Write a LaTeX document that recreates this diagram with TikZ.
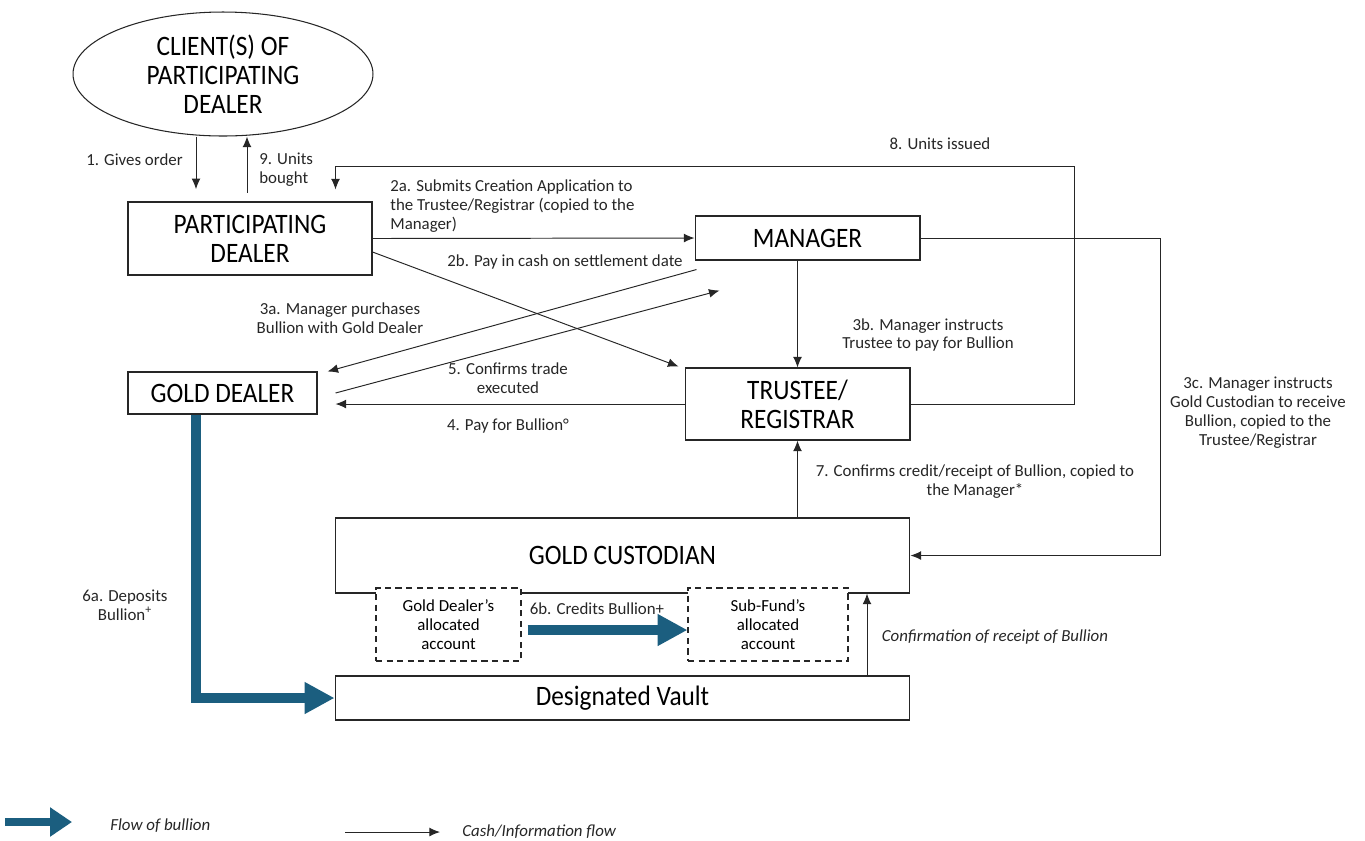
\documentclass[tikz,border=0pt]{standalone}
\usepackage{fontspec}
\setmainfont{Carlito}
\newfontfamily\boxfont[FakeStretch=0.9]{Carlito}
\usetikzlibrary{arrows.meta,shapes.geometric,calc}
\definecolor{bullionblue}{HTML}{1B5E7F}
\begin{document}
\begin{tikzpicture}[x=0.02cm,y=-0.02cm]
\tikzset{
box/.style={draw=black!85,line width=0.6pt,inner sep=0pt,align=center,font={\boxfont\fontsize{16}{16.5}\selectfont}},
acct/.style={draw=black!85,fill=white,dash pattern=on 3.5pt off 2.5pt,line width=0.6pt,inner sep=0pt,align=center,minimum height=1.46cm,font={\fontsize{9.6}{10.8}\selectfont}},
lbl/.style={align=center,text=black!85,inner sep=0pt,font={\fontsize{9.6}{10.8}\selectfont}},
ilbl/.style={lbl,font={\fontsize{9.6}{10.8}\selectfont\itshape}},
edge/.style={->,>={Latex[length=6pt,width=5pt]},draw=black!85,line width=0.55pt},
bullion/.style={draw=bullionblue,line width=0.2cm,-{Triangle[length=0.6cm,width=0.6cm]}}
}

\useasboundingbox (0,0) rectangle (1365,840);

\node[box,ellipse,minimum width=6cm,minimum height=2.48cm] (client) at (223,74) {CLIENT(S) OF\\PARTICIPATING\\DEALER};
\node[box,minimum width=4.88cm,minimum height=1.46cm] (PD) at (250,238.5) {PARTICIPATING\\DEALER};
\node[box,minimum width=4.5cm,minimum height=0.88cm] (mgr) at (807.5,238) {MANAGER};
\node[box,minimum width=3.78cm,minimum height=0.84cm] (gdeal) at (222.5,393) {GOLD DEALER};
\node[box,minimum width=4.5cm,minimum height=1.44cm] (trust) at (797.5,404) {TRUSTEE/\\REGISTRAR};
\node[box,minimum width=11.5cm,minimum height=1.5cm] (cust) at (622.5,555.5) {GOLD CUSTODIAN};
\node[box,minimum width=11.5cm,minimum height=0.88cm] (vault) at (622.5,698) {Designated Vault};
\node[acct,minimum width=2.9cm] (gacc) at (448.5,624.5) {Gold Dealer's\\allocated\\account};
\node[acct,minimum width=3.2cm] (sacc) at (768,624.5) {Sub-Fund's\\allocated\\account};

\coordinate (c8) at (1074,166);
\coordinate (c3c) at (1160,400);

\draw[edge,shorten >=7pt] (client.south -| 196,0) -- (PD.north -| 196,0);
\draw[edge,shorten <=5pt] (PD.north -| 247,0) -- (client.south -| 247,0);
\draw[edge] (trust.east) -| (c8) -| ($(PD.north east)+(-37,-12)$);
\draw[edge] (PD.east) -- (mgr.west);
\draw[edge] ($(PD.east)+(0,13.5)$) -- ($(trust.north west)+(-6,-1)$);
\draw[edge] ($(mgr.south west)+(2,9)$) -- ($(gdeal.north east)+(10,0)$);
\draw[edge] ($(gdeal.east)+(18,0)$) -- ($(mgr.south west)+(25,30)$);
\draw[edge] (trust.west) -- ($(trust.west -| gdeal.east)+(18,0)$);
\draw[edge] (trust.north |- mgr.south) -- (trust.north);
\draw[edge] (mgr.east) -| (c3c) |- (cust.east);
\draw[edge] (trust.south |- cust.north) -- (trust.south);
\draw[edge] (vault.north -| 867,0) -- (cust.south -| 867,0);

\draw[bullion] (gdeal.south -| 196,0) |- (vault.west);
\draw[bullion] ($(gacc.east)+(6,5.5)$) -- ($(sacc.west)+(0,5.5)$);

\node[lbl,anchor=east] (l1) at (183,160) {1. Gives order};
\node[lbl,align=left,anchor=west] (l9) at (259,170) {9. Units\\bought};
\node[lbl] (l8) at (940,144) {8. Units issued};
\node[lbl,align=left,anchor=west] (l2a) at (390,206) {2a. Submits Creation Application to\\the Trustee/Registrar (copied to the\\Manager)};
\node[lbl] (l2b) at (565,262) {2b. Pay in cash on settlement date};
\node[lbl] (l3a) at (340,318) {3a. Manager purchases\\Bullion with Gold Dealer};
\node[lbl] (l5) at (508,378) {5. Confirms trade\\executed};
\node[lbl] (l4) at (508,426) {4. Pay for Bullion°};
\node[lbl] (l3b) at (928,335) {3b. Manager instructs\\Trustee to pay for Bullion};
\node[lbl] (l3c) at (1258,413) {3c. Manager instructs\\Gold Custodian to receive\\Bullion, copied to the\\Trustee/Registrar};
\node[lbl] (l7) at (975,482) {7. Confirms credit/receipt of Bullion, copied to\\the Manager*};
\node[ilbl] (lconf) at (995,637) {Confirmation of receipt of Bullion};
\node[lbl] (l6a) at (125,605) {6a. Deposits\\Bullion\textsuperscript{+}};
\node[lbl] (l6b) at (597,609) {6b. Credits Bullion+};

\coordinate (legA) at (5,822);
\coordinate (legB) at (72,822);
\coordinate (legC) at (345,832);
\coordinate (legD) at (440,832);
\draw[bullion,line width=0.16cm,-{Triangle[length=0.44cm,width=0.56cm]}] (legA) -- (legB);
\node[ilbl,anchor=west] (legbul) at (110,826) {Flow of bullion};
\draw[edge] (legC) -- (legD);
\node[ilbl,anchor=west] (legcash) at (462,832) {Cash/Information flow};
\end{tikzpicture}
\end{document}
